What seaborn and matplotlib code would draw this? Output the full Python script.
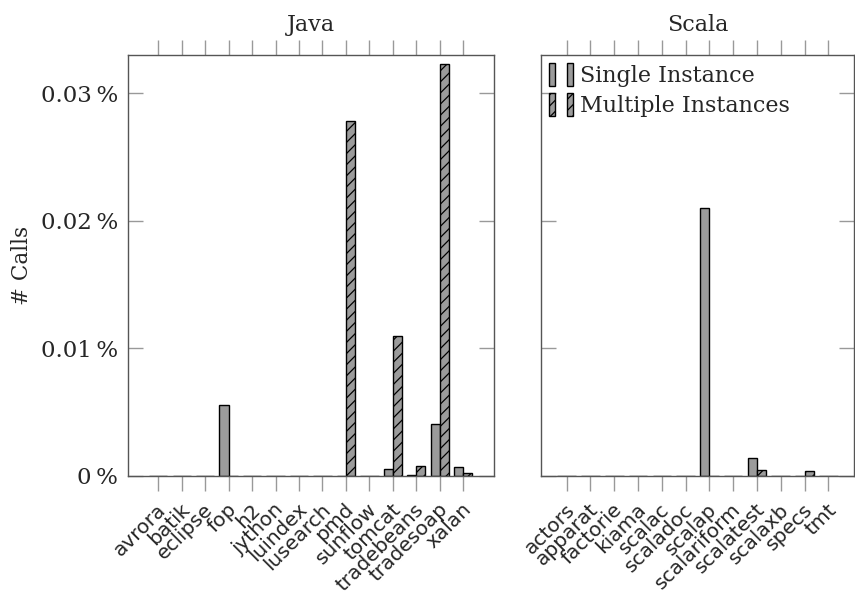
import matplotlib
matplotlib.use("Agg")
import matplotlib.pyplot as plt
import matplotlib.transforms as mtransforms
import seaborn as sns
import pandas as pd
from matplotlib.patches import Patch
from matplotlib.legend_handler import HandlerTuple
from matplotlib.ticker import FuncFormatter

java_benchmarks = ["avrora", "batik", "eclipse", "fop", "h2", "jython", "luindex",
                   "lusearch", "pmd", "sunflow", "tomcat", "tradebeans", "tradesoap", "xalan"]
java_single = [0.0, 0.0, 0.0, 0.00557, 0.0, 0.0, 0.0, 0.0, 0.0, 0.0, 0.00055, 0.0001, 0.0041, 0.0007]
java_multiple = [0.0, 0.0, 0.0, 0.0, 0.0, 0.00002, 0.0, 0.0, 0.02784, 0.0, 0.0110, 0.00078, 0.0323, 0.00024]

scala_benchmarks = ["actors", "apparat", "factorie", "kiama", "scalac", "scaladoc", "scalap",
                    "scalariform", "scalatest", "scalaxb", "specs", "tmt"]
scala_single = [0.0, 0.0, 0.0, 0.00002, 0.0, 0.0, 0.0210, 0.00002, 0.00141, 0.0, 0.00003, 0.0]
scala_multiple = [0.0, 0.0, 0.0, 0.0, 0.0, 0.0, 0.0, 0.0, 0.00047, 0.0, 0.0004, 0.0]

series_names = ["Single Instance", "Multiple Instances"]
y_ticks = [0.0, 0.01, 0.02, 0.03]

sns.set_style("white")
plt.rcParams["hatch.linewidth"] = 0.9
SERIF = "DejaVu Serif"
SANS = "DejaVu Sans"

def make_df(cats, single, multi):
    return pd.DataFrame({
        "benchmark": cats * 2,
        "value": list(single) + list(multi),
        "kind": [series_names[0]] * len(cats) + [series_names[1]] * len(cats),
    })

fig = plt.figure(figsize=(8.55, 5.98), dpi=100)
ax1 = fig.add_axes([127.5 / 855, 1 - 476 / 598, (494 - 127.5) / 855, (476 - 55) / 598])
ax2 = fig.add_axes([541 / 855, 1 - 476 / 598, (854 - 541) / 855, (476 - 55) / 598])

fill = "#9b9b9b"
palette = {series_names[0]: fill, series_names[1]: fill}

def fmt(v, pos):
    if abs(v) < 1e-12:
        return "0\u2009%"
    return f"{v:.2f}\u2009%"

shift = mtransforms.ScaledTranslation(5 / 100, 0, fig.dpi_scale_trans)

for ax, cats, s, m, title, pad in [
    (ax1, java_benchmarks, java_single, java_multiple, "Java", 1.31),
    (ax2, scala_benchmarks, scala_single, scala_multiple, "Scala", 1.08),
]:
    df = make_df(cats, s, m)
    sns.barplot(data=df, x="benchmark", y="value", hue="kind", palette=palette,
                width=0.78, gap=0, edgecolor="black", linewidth=1.0, ax=ax,
                legend=False, errorbar=None, saturation=1)
    for bar in ax.containers[1]:
        bar.set_hatch("///")
    ax.set_xlim(-pad, len(cats) - 1 + pad)
    ax.set_ylim(0, 0.033)
    ax.set_yticks(y_ticks)
    ax.set_xlabel("")
    ax.set_ylabel("")
    ax.set_title(title, fontsize=16, family=SERIF, pad=17)
    for sp in ax.spines.values():
        sp.set_visible(True)
        sp.set_color("#555555")
        sp.set_linewidth(1.0)
    ax.tick_params(axis="x", which="both", direction="out", length=11, width=1,
                   color="#999999", top=True, bottom=True, pad=11)
    ax.tick_params(axis="y", which="both", direction="in", length=11, width=1,
                   color="#999999", left=True, right=True)
    ax.set_xticks(range(len(cats)))
    ax.set_xticklabels(cats, rotation=45, ha="right", va="center", rotation_mode="anchor",
                       fontsize=14.5, family=SANS)
    for lab in ax.get_xticklabels():
        lab.set_transform(lab.get_transform() + shift)
    ax.xaxis.set_tick_params(labeltop=False)

ax1.yaxis.set_major_formatter(FuncFormatter(fmt))
for lab in ax1.get_yticklabels():
    lab.set_family(SERIF)
    lab.set_fontsize(16.5)
ax1.tick_params(axis="y", pad=7)
ax2.set_yticklabels([])
ax1.set_ylabel("# Calls", fontsize=15.5, family=SERIF)
ax1.yaxis.set_label_coords((33 - 127.5) / 366.5, 0.5)

h1 = (Patch(facecolor=fill, edgecolor="black"), Patch(facecolor=fill, edgecolor="black"))
h2 = (Patch(facecolor=fill, edgecolor="black", hatch="///"),
      Patch(facecolor=fill, edgecolor="black", hatch="///"))
ax2.legend([h1, h2], series_names, handler_map={tuple: HandlerTuple(ndivide=None, pad=0.5)},
           loc="upper left", frameon=False, prop={"family": SERIF, "size": 16},
           handlelength=1.1, handleheight=1.2, handletextpad=0.3, labelspacing=0.3,
           borderaxespad=0.15, borderpad=0.2)

fig.savefig("out.png", dpi=100)
